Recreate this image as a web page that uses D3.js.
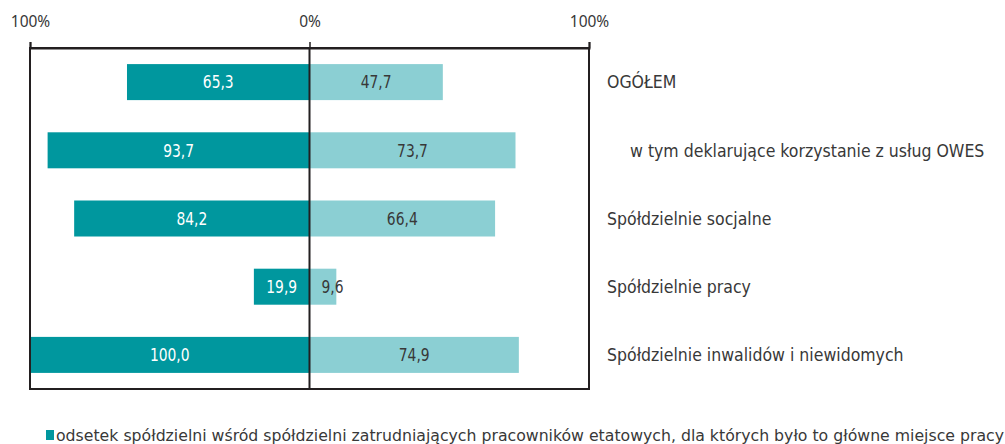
<!DOCTYPE html>
<html>
<head>
<meta charset="utf-8">
<script src="https://cdn.jsdelivr.net/npm/d3@7"></script>
<style>
  html, body { margin: 0; padding: 0; background: #fff; }
  svg { display: block; }
  .lbl { font-family: "DejaVu Sans Condensed", "Liberation Sans Narrow", sans-serif; font-stretch: condensed; }
  .tk { font-family: "Noto Sans", "Open Sans", sans-serif; }
</style>
</head>
<body>
<svg id="chart" width="1005" height="444"></svg>
<script>
const categories = [
  "OGÓŁEM",
  "w tym deklarujące korzystanie z usług OWES",
  "Spółdzielnie socjalne",
  "Spółdzielnie pracy",
  "Spółdzielnie inwalidów i niewidomych"
];
const leftValues = [65.3, 93.7, 84.2, 19.9, 100.0];
const rightValues = [47.7, 73.7, 66.4, 9.6, 74.9];
const indented = [false, true, false, false, false];
const tickValues = [-100, 0, 100];
const tickLabels = ["100%", "0%", "100%"];
const legendLabel = "odsetek spółdzielni wśród spółdzielni zatrudniających pracowników etatowych, dla których było to główne miejsce pracy";

(function () {
const darkColor = "#00979e";
const lightColor = "#8bcfd3";
const frameColor = "#231f20";
const textColor = "#383838";

const svg = d3.select("#chart");
const pLeft = 30, pRight = 589, pTop = 48, pBottom = 389;

const x = d3.scaleLinear().domain([-100, 100]).range([pLeft, pRight]);
const y = d3.scaleBand().domain(categories).range([pTop, pBottom]).paddingInner(0.472).paddingOuter(0.236);

const fmt = v => v.toFixed(1).replace(".", ",");
const squeeze = (sel, k) => sel.each(function () {
  const len = this.getComputedTextLength();
  d3.select(this).attr("textLength", len * k).attr("lengthAdjust", "spacingAndGlyphs");
});

const rows = categories.map((c, i) => ({c, l: leftValues[i], r: rightValues[i], ind: indented[i]}));

svg.append("g").selectAll("rect").data(rows).join("rect")
  .attr("x", d => x(-d.l)).attr("width", d => x(0) - x(-d.l))
  .attr("y", d => y(d.c)).attr("height", y.bandwidth())
  .attr("fill", darkColor);

svg.append("g").selectAll("rect").data(rows).join("rect")
  .attr("x", x(0)).attr("width", d => x(d.r) - x(0))
  .attr("y", d => y(d.c)).attr("height", y.bandwidth())
  .attr("fill", lightColor);

svg.append("g").selectAll("text").data(rows).join("text")
  .attr("class", "lbl")
  .attr("x", d => (x(-d.l) + x(0)) / 2)
  .attr("y", d => y(d.c) + y.bandwidth() / 2)
  .attr("dy", "0.36em")
  .attr("text-anchor", "middle")
  .attr("font-size", 17.5)
  .attr("fill", "#ffffff")
  .text(d => fmt(d.l))
  .call(squeeze, 0.88);

svg.append("g").selectAll("text").data(rows).join("text")
  .attr("class", "lbl")
  .attr("x", d => Math.max((x(0) + x(d.r)) / 2, x(0) + 23))
  .attr("y", d => y(d.c) + y.bandwidth() / 2)
  .attr("dy", "0.36em")
  .attr("text-anchor", "middle")
  .attr("font-size", 17.5)
  .attr("fill", textColor)
  .text(d => fmt(d.r))
  .call(squeeze, 0.88);

svg.append("rect")
  .attr("x", pLeft).attr("y", pTop)
  .attr("width", pRight - pLeft).attr("height", pBottom - pTop)
  .attr("fill", "none").attr("stroke", frameColor).attr("stroke-width", 2);

const axis = d3.axisTop(x).tickValues(tickValues).tickSize(6).tickPadding(15)
  .tickFormat((d, i) => tickLabels[i]);
const ag = svg.append("g").attr("transform", `translate(0,${pTop})`).call(axis);
ag.select(".domain").attr("stroke", frameColor).attr("stroke-width", 2);
ag.selectAll(".tick line").attr("stroke", frameColor).attr("stroke-width", 1.5);
ag.selectAll(".tick text").attr("class", "tk").attr("font-size", 15.5).attr("fill", textColor);

svg.append("line")
  .attr("x1", x(0)).attr("x2", x(0)).attr("y1", pTop).attr("y2", pBottom)
  .attr("stroke", frameColor).attr("stroke-width", 2);

svg.append("g").selectAll("text").data(rows).join("text")
  .attr("class", "lbl")
  .attr("x", d => d.ind ? 630 : 607)
  .attr("y", d => y(d.c) + y.bandwidth() / 2)
  .attr("dy", "0.36em")
  .attr("font-size", 17.5)
  .attr("fill", textColor)
  .text(d => d.c);

const lg = svg.append("g").attr("transform", "translate(46,430)");
lg.append("rect").attr("x", 0).attr("y", 0).attr("width", 8).attr("height", 10).attr("fill", darkColor);
lg.append("text").attr("class", "lbl")
  .attr("x", 10).attr("y", 5).attr("dy", "0.36em")
  .attr("font-size", 16.5).attr("fill", textColor)
  .attr("textLength", 948).attr("lengthAdjust", "spacingAndGlyphs")
  .text(legendLabel);
})();
</script>
</body>
</html>
